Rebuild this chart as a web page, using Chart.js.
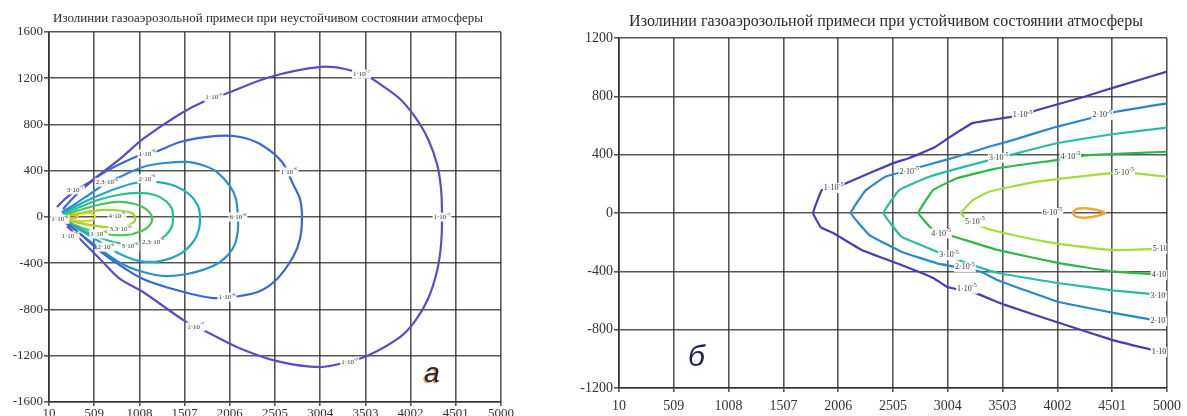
<!DOCTYPE html>
<html>
<head>
<meta charset="utf-8">
<script src="https://cdn.jsdelivr.net/npm/chart.js@4.4.0/dist/chart.umd.min.js"></script>
<style>
  html, body { margin: 0; padding: 0; background: #fff; }
  #wrap { position: relative; width: 1187px; height: 416px; overflow: hidden; }
  #boxA { position: absolute; left: 0; top: 0; width: 560px; height: 416px; }
  #boxB { position: absolute; left: 560px; top: 0; width: 627px; height: 416px; }
</style>
</head>
<body>
<div id="wrap">
  <div id="boxA"><canvas id="chartA"></canvas></div>
  <div id="boxB"><canvas id="chartB"></canvas></div>
</div>
<script>
/* Изолинии: а - неустойчивое состояние, б - устойчивое */

const xTicks = [10, 509, 1008, 1507, 2006, 2505, 3004, 3503, 4002, 4501, 5000];

const titleA = 'Изолинии газоаэрозольной примеси при неустойчивом состоянии атмосферы';
const titleB = 'Изолинии газоаэрозольной примеси при устойчивом состоянии атмосферы';

// --- график а (точки изолиний, [x, y]) ---
const a1e7 = [[98,87],[187,156],[297,225],[463,303],[606,389],[794,502],[1048,675],[1456,891],[1732,1003],[1953,1064],
  [2450,1211],[3013,1298],[3278,1280],[3521,1220],[3664,1150],[3885,1021],[4051,865],[4194,675],[4294,458],[4338,242],
  [4349,0],[4338,-242],[4294,-467],[4194,-709],[4051,-900],[3885,-1038],[3521,-1202],[3300,-1254],[3002,-1298],[2527,-1246],
  [2100,-1130],[1754,-995],[1511,-900],[1048,-649],[794,-536],[573,-363],[352,-190],[209,-78]];
const a1e6 = [[165,69],[264,156],[407,260],[573,363],[794,458],[1048,545],[1213,571],[1456,649],[1865,701],[2119,692],
  [2340,631],[2583,476],[2704,285],[2781,156],[2803,0],[2781,-190],[2704,-346],[2527,-536],[2340,-640],[2119,-683],
  [1821,-701],[1456,-640],[1048,-536],[739,-389],[518,-260],[330,-130],[176,-35]];
const a3 = [[154,43],[297,112],[463,199],[628,285],[816,355],[1048,433],[1291,467],[1534,476],[1732,441],[1865,389],
  [2008,268],[2074,156],[2096,0],[2096,-104],[2063,-234],[1975,-337],[1821,-424],[1534,-493],[1269,-510],[1048,-476],
  [816,-407],[573,-277],[374,-156],[198,-52]];
const a4 = [[154,35],[330,104],[518,173],[739,242],[959,294],[1180,303],[1401,268],[1567,190],[1655,95],[1677,0],
  [1666,-104],[1600,-216],[1456,-320],[1235,-381],[1015,-381],[794,-320],[573,-216],[374,-121],[198,-35]];
const a5 = [[165,26],[352,87],[551,147],[772,190],[993,208],[1180,190],[1302,138],[1368,69],[1379,0],[1368,-78],
  [1302,-156],[1180,-216],[993,-242],[772,-225],[551,-173],[352,-104],[176,-35]];
const a6 = [[176,17],[352,61],[551,104],[772,130],[959,112],[1081,69],[1147,0],[1125,-69],[1037,-121],[849,-156],
  [628,-147],[407,-104],[198,-35]];
const a7 = [[198,9],[407,43],[628,61],[816,52],[926,35],[959,0],[948,-43],[849,-78],[628,-87],[407,-61],[209,-26]];
const a8 = [[198,9],[330,26],[463,35],[518,9],[496,-26],[341,-35],[209,-17]];
const a9 = [[176,0],[250,17],[330,9],[300,-9],[220,-9],[176,0]];

const labelsA = [
  [1830, 1035, '1·10', '-7'], [3460, 1235, '1·10', '-7'], [4349, 0, '1·10', '-7'],
  [1630, -950, '1·10', '-7'], [3330, -1255, '1·10', '-7'], [300, 235, '3·10', '-7'],
  [130, -20, '1·10', '-6'], [1092, 545, '1·10', '-6'], [2660, 390, '1·10', '-6'], [1975, -692, '1·10', '-6'],
  [2096, 0, '6·10', '-6'], [1092, 330, '2·10', '-6'], [650, 300, '2.3·10', '-6'],
  [242, -164, '1·10', '-6'], [560, -147, '1·10', '-6'], [640, -260, '2·10', '-6'],
  [904, -251, '3·10', '-6'], [1160, -216, '2.3·10', '-6'], [761, 9, '4·10', '-6'], [800, -104, '3.3·10', '-6']
];

// --- график б ---
const b1e5 = [[5000,970],[4536,865],[4247,797],[3812,705],[3686,671],[3228,616],[3010,514],[2871,445],[2654,377],[2508,342],
  [2110,215],[1965,169],[1857,158],[1777,0],[1850,-100],[1965,-139],[2219,-253],[2581,-356],[2871,-445],[2998,-507],
  [3251,-548],[3523,-630],[3994,-747],[4500,-870],[4862,-938],[5000,-960]];
const b2e5 = [[5000,752],[4536,694],[3994,591],[3595,500],[3378,454],[3088,386],[2817,329],[2436,249],[2255,155],[2121,0],
  [2291,-151],[2581,-265],[2907,-345],[3305,-402],[3454,-459],[4005,-609],[4511,-685],[4873,-733],[5000,-745]];
const b3e5 = [[5000,585],[4500,540],[4005,480],[3631,409],[3269,340],[2835,249],[2563,158],[2418,0],
  [2581,-162],[2907,-265],[3178,-345],[3450,-410],[4005,-480],[4500,-530],[5000,-565]];
const b4e5 = [[5000,420],[4283,397],[3994,363],[3450,306],[3088,238],[2871,158],[2736,0],
  [2871,-116],[3160,-185],[3454,-253],[4005,-342],[4500,-400],[5000,-425]];
const b5e5 = [[5000,249],[4718,272],[4464,272],[3812,215],[3378,146],[3232,89],[3124,0],
  [3200,-60],[3396,-115],[3812,-185],[4005,-210],[4511,-255],[5000,-245]];
const b6e5 = [[4140,0],[4170,25],[4250,32],[4350,22],[4437,0],[4350,-22],[4250,-32],[4170,-25],[4140,0]];

const labelsB = [
  [1965, 171, '1·10', '-5'], [3686, 671, '1·10', '-5'], [3178, -520, '1·10', '-5'], [4950, -955, '1·10', '-5'],
  [2653, 283, '2·10', '-5'], [4410, 671, '2·10', '-5'], [3160, -372, '2·10', '-5'], [4940, -740, '2·10', '-5'],
  [3468, 377, '3·10', '-5'], [3015, -290, '3·10', '-5'], [4940, -570, '3·10', '-5'],
  [4120, 386, '4·10', '-5'], [2943, -140, '4·10', '-5'], [4950, -425, '4·10', '-5'],
  [4610, 274, '5·10', '-5'], [3251, -60, '5·10', '-5'], [4960, -245, '5·10', '-5'],
  [3957, 0, '6·10', '-5']
];

const serif = '"Liberation Serif", "Times New Roman", serif';

// подписи изолиний
const contourLabels = {
  id: 'contourLabels',
  afterDatasetsDraw(chart, args, opts) {
    const { ctx, chartArea: a, scales: { x, y } } = chart;
    ctx.save();
    ctx.beginPath();
    ctx.rect(a.left, a.top, a.width, a.height);
    ctx.clip();
    ctx.textBaseline = 'middle';
    ctx.textAlign = 'left';
    for (const [vx, vy, base, exp] of opts.items) {
      const px = x.getPixelForValue(vx), py = y.getPixelForValue(vy);
      ctx.font = opts.size + 'px ' + serif;
      const w1 = ctx.measureText(base).width;
      ctx.font = (opts.size - 2) + 'px ' + serif;
      const w2 = ctx.measureText(exp).width;
      const w = w1 + w2;
      ctx.fillStyle = 'rgba(255,255,255,0.92)';
      ctx.fillRect(px - w / 2 - 1, py - opts.size / 2 - 1, w + 2, opts.size + 2);
      ctx.fillStyle = '#3a3a3a';
      ctx.font = opts.size + 'px ' + serif;
      ctx.fillText(base, px - w / 2, py);
      ctx.font = (opts.size - 2) + 'px ' + serif;
      ctx.fillText(exp, px - w / 2 + w1, py - opts.size * 0.4);
    }
    ctx.restore();
  }
};

// заголовок и буква панели
const captions = {
  id: 'captions',
  afterDraw(chart, args, opts) {
    const { ctx, chartArea: a, scales: { x, y } } = chart;
    ctx.save();
    ctx.textAlign = 'center';
    ctx.textBaseline = 'middle';
    ctx.fillStyle = '#2a2a2a';
    ctx.font = opts.titleSize + 'px ' + serif;
    ctx.fillText(opts.title, (a.left + a.right) / 2 + opts.titleDx, opts.titleY);
    ctx.font = 'italic ' + opts.letterSize + 'px "Liberation Sans", Arial, sans-serif';
    const lx = x.getPixelForValue(opts.letter[0]), ly = y.getPixelForValue(opts.letter[1]);
    if (opts.shadow) {
      ctx.fillStyle = opts.shadow;
      ctx.fillText(opts.letter[2], lx - 1.5, ly + 0.5);
    }
    ctx.fillStyle = '#1c2452';
    ctx.fillText(opts.letter[2], lx, ly);
    ctx.restore();
  }
};

const line = (pts, color, tension, w) => ({
  data: pts.map(([x, y]) => ({ x, y })),
  borderColor: color,
  borderWidth: w || 2.2,
  showLine: true,
  pointRadius: 0,
  tension: tension,
  fill: false
});

const gridColor = 'rgba(45,45,45,0.8)';

function makeOptions(p) {
  return {
    responsive: true,
    maintainAspectRatio: false,
    animation: false,
    events: [],
    layout: { padding: { top: p.top, right: p.right, left: 0, bottom: 0 } },
    plugins: {
      legend: { display: false },
      tooltip: { enabled: false },
      contourLabels: { items: p.labels, size: p.labelSize },
      captions: p.captions
    },
    scales: {
      x: {
        type: 'linear',
        min: 10,
        max: 5000,
        afterBuildTicks: s => { s.ticks = xTicks.map(v => ({ value: v })); },
        afterFit: s => { s.height = p.xHeight; },
        grid: { color: gridColor, lineWidth: 1.6, tickLength: 4, tickColor: gridColor },
        border: { color: '#333', width: 1.6 },
        ticks: {
          color: '#333', padding: p.xPad, autoSkip: false, maxRotation: 0,
          font: { family: serif, size: p.tickSize },
          callback: v => String(v)
        }
      },
      y: {
        type: 'linear',
        min: p.yMin,
        max: p.yMax,
        afterFit: s => { s.width = p.yWidth; },
        grid: { color: gridColor, lineWidth: 1.6, tickLength: 5, tickColor: gridColor },
        border: { color: '#333', width: 1.6 },
        ticks: {
          color: '#333', stepSize: 400, padding: 1,
          font: { family: serif, size: p.tickSize },
          callback: v => String(v)
        }
      }
    }
  };
}

new Chart(document.getElementById('chartA'), {
  type: 'scatter',
  data: {
    datasets: [
      line(a1e7, '#5a4cc8', 0.3),
      line(a1e6, '#3c66d2', 0.3),
      line(a3, '#2d8fca', 0.3),
      line(a4, '#22abb8', 0.3),
      line(a5, '#2cc08e', 0.3),
      line(a6, '#46c652', 0.3),
      line(a7, '#a4d232', 0.3),
      line(a8, '#e2d420', 0.2),
      line(a9, '#f0ae28', 0.2)
    ]
  },
  options: makeOptions({
    top: 32, right: 59, xHeight: 14, yWidth: 49, xPad: 0, tickSize: 13,
    yMin: -1600, yMax: 1600, labels: labelsA, labelSize: 7,
    captions: { title: titleA, titleSize: 13, titleY: 19, titleDx: -7,
      letter: [4240, -1360, 'а'], letterSize: 28, shadow: '#e8902a' }
  }),
  plugins: [contourLabels, captions]
});

new Chart(document.getElementById('chartB'), {
  type: 'scatter',
  data: {
    datasets: [
      line(b1e5, '#4a3db4', 0.08),
      line(b2e5, '#2a88c8', 0.08),
      line(b3e5, '#2abba4', 0.08),
      line(b4e5, '#2cb848', 0.08),
      line(b5e5, '#a6dc3a', 0.08),
      line(b6e5, '#f0a832', 0.2, 2.5)
    ]
  },
  options: makeOptions({
    top: 38, right: 16, xHeight: 28, yWidth: 59, xPad: 6, tickSize: 14,
    yMin: -1200, yMax: 1200, labels: labelsB, labelSize: 8,
    captions: { title: titleB, titleSize: 16, titleY: 22, titleDx: -7,
      letter: [715, -993, 'б'], letterSize: 30, shadow: null }
  }),
  plugins: [contourLabels, captions]
});
</script>
</body>
</html>
